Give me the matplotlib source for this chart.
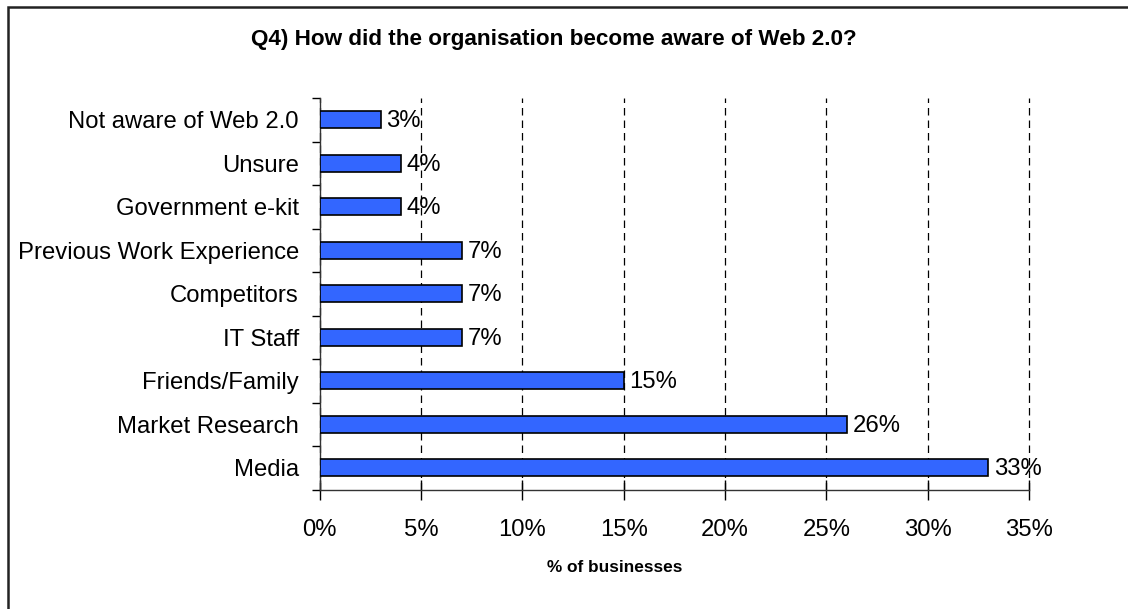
import matplotlib.pyplot as plt
from matplotlib.patches import Rectangle

plt.rcParams['font.family'] = ['Liberation Sans', 'DejaVu Sans']

# Survey answers, top to bottom
categories = ['Not aware of Web 2.0', 'Unsure', 'Government e-kit',
              'Previous Work Experience', 'Competitors', 'IT Staff',
              'Friends/Family', 'Market Research', 'Media']
shares = [3, 4, 4, 7, 7, 7, 15, 26, 33]
xticks = [0, 5, 10, 15, 20, 25, 30, 35]

fig = plt.figure(figsize=(11.28, 6.09), dpi=100, facecolor='w')
ax = fig.add_axes([0.2835, 0.196, 0.6287, 0.643])

n = len(categories)
ypos = [n - 1 - i for i in range(n)]
ax.barh(ypos, shares, height=0.39, color='#3366ff', edgecolor='black',
        linewidth=1.2, zorder=3)

for y, v in zip(ypos, shares):
    ax.text(v + 0.28, y - 0.03, '%d%%' % v, va='center', ha='left',
            fontsize=17.2, zorder=4)

ax.set_xlim(0, 35)
ax.set_ylim(-0.5, n - 0.5)
ax.set_xticks(xticks)
ax.set_xticklabels(['%d%%' % t for t in xticks], fontsize=17.2)
ax.set_yticks(ypos)
ax.set_yticklabels(categories, fontsize=17.2)

# ticks between categories on the y axis
ax.set_yticks([i - 0.5 for i in range(n + 1)], minor=True)
ax.tick_params(axis='y', which='major', length=0, pad=15)
ax.tick_params(axis='y', which='minor', length=6, width=1, direction='out')
ax.tick_params(axis='x', length=14, width=1, direction='inout', pad=14)

ax.xaxis.grid(True, color='black', linestyle=(0, (6, 4)), linewidth=0.9)
for gl in ax.get_xgridlines():
    gl.set_clip_on(False)
ax.set_axisbelow(True)

for s in ('top', 'right'):
    ax.spines[s].set_visible(False)
for s in ('left', 'bottom'):
    ax.spines[s].set_color('#333333')
    ax.spines[s].set_linewidth(1)

fig.text(615 / 1128, 1 - 568 / 609, '% of businesses', ha='center',
         va='center', fontsize=12.4, fontweight='bold')
fig.text(554 / 1128, 1 - 40 / 609,
         'Q4) How did the organisation become aware of Web 2.0?',
         ha='center', va='center', fontsize=16.2, fontweight='bold')

# chart frame
fig.patches.append(Rectangle((8 / 1128, -0.1), 1.2, 1.1 - 7 / 609,
                             transform=fig.transFigure, fill=False,
                             edgecolor='#222222', linewidth=1.8))

plt.savefig('out.png', dpi=100)
